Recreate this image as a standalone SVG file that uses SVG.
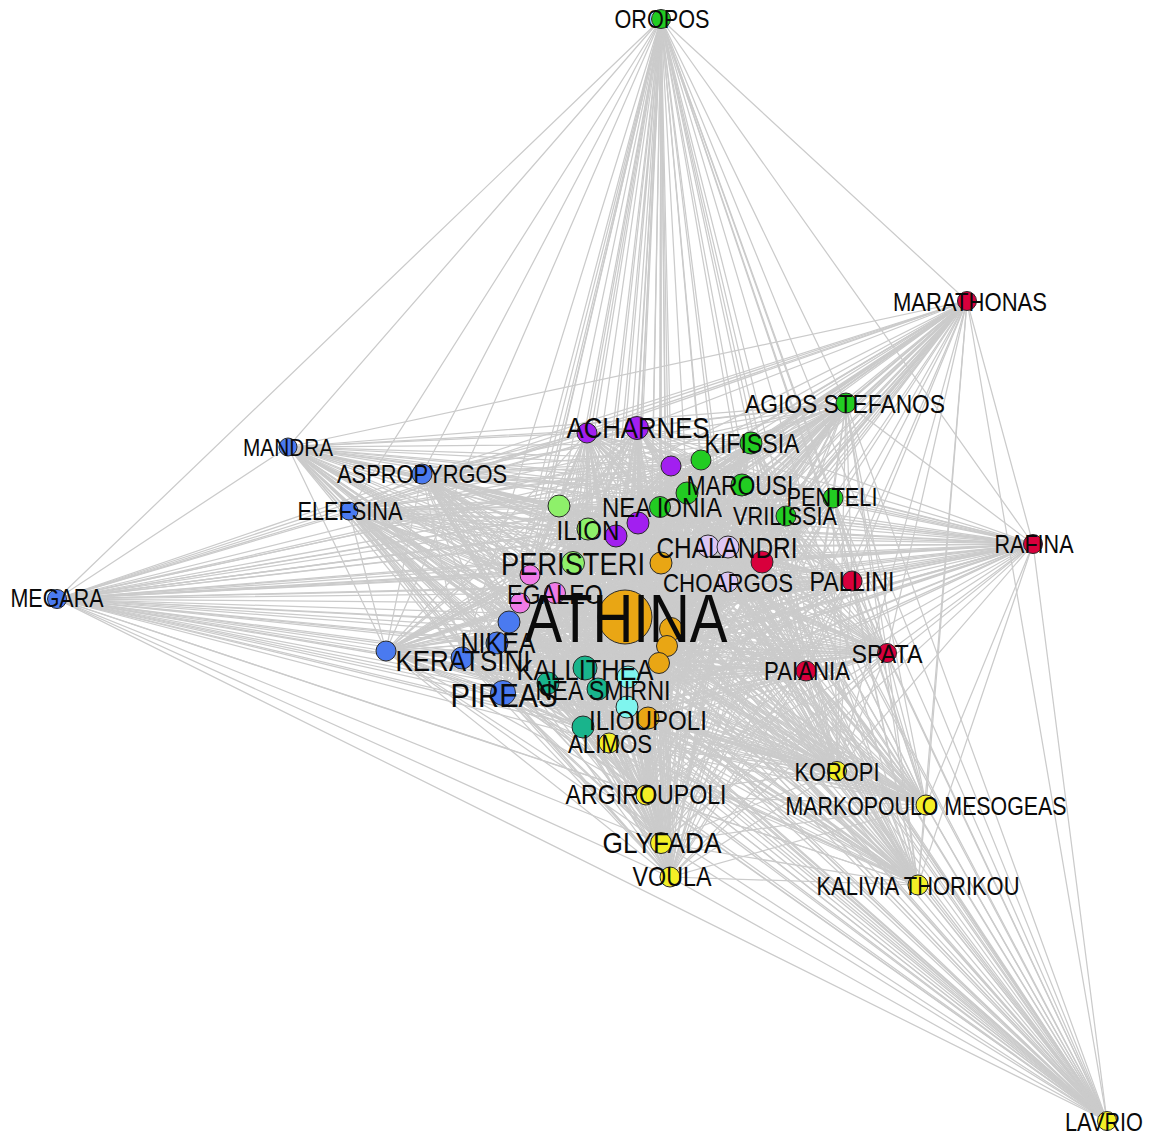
<svg xmlns="http://www.w3.org/2000/svg" width="1155" height="1135" viewBox="0 0 1155 1135">
<style>
.e{fill:none;stroke:#cbcbcb;stroke-width:1.25}
.n{stroke:#2a2a2a;stroke-width:1}
.l{font-family:"Liberation Sans",Arial,sans-serif;fill:#0a0a0a;text-anchor:middle}
.g{fill:#22cc22}.lg{fill:#8ef06a}.pu{fill:#a21ff0}.or{fill:#e9a614}.lv{fill:#ddc6f3}.rd{fill:#d8003c}.cy{fill:#7ff5ee}.tl{fill:#19b48c}.pk{fill:#f07be6}.bl{fill:#4a7af0}.ye{fill:#f3ef26}
</style>
<rect width="1155" height="1135" fill="#fff"/>
<g id="edges">
<polygon class="e" points="661,19 967,301 57,599 1107,1121 288,447 422,474 349,511 846,403 751,443 587,433 637,428 671,466 701,460 742,485 687,493 660,507 638,523 616,536 559,506 588,529 573,563 661,563 708,546 728,547 762,562 833,498 786,516 728,582 852,581 1033,544 887,653 806,671 625,617 671,629 667,646 659,663 648,718 628,677 627,707 585,668 548,683 598,689 583,727 609,743 530,575 555,593 520,603 509,622 497,643 462,658 386,651 503,693 646,795 661,843 670,877 837,771 926,805 918,885"/>
<polygon class="e" points="661,19 57,599 288,447 349,511 751,443 637,428 701,460 687,493 638,523 559,506 573,563 708,546 762,562 786,516 852,581 887,653 625,617 667,646 648,718 627,707 548,683 583,727 530,575 520,603 497,643 386,651 646,795 670,877 926,805"/>
<polygon class="e" points="967,301 1107,1121 422,474 846,403 587,433 671,466 742,485 660,507 616,536 588,529 661,563 728,547 833,498 728,582 1033,544 806,671 671,629 659,663 628,677 585,668 598,689 609,743 555,593 509,622 462,658 503,693 661,843 837,771 918,885"/>
<polygon class="e" points="661,19 1107,1121 349,511 587,433 701,460 660,507 559,506 661,563 762,562 728,582 887,653 671,629 648,718 585,668 583,727 555,593 497,643 503,693 670,877 918,885 57,599 422,474 751,443 671,466 687,493 616,536 573,563 728,547 786,516 1033,544 625,617 659,663 627,707 598,689 530,575 509,622 386,651 661,843 926,805 967,301 288,447 846,403 637,428 742,485 638,523 588,529 708,546 833,498 852,581 806,671 667,646 628,677 548,683 609,743 520,603 462,658 646,795 837,771"/>
<polygon class="e" points="661,19 288,447 751,443 701,460 638,523 573,563 762,562 852,581 625,617 648,718 548,683 530,575 497,643 646,795 926,805 57,599 349,511 637,428 687,493 559,506 708,546 786,516 887,653 667,646 627,707 583,727 520,603 386,651 670,877"/>
<polygon class="e" points="967,301 422,474 587,433 742,485 616,536 661,563 833,498 1033,544 671,629 628,677 598,689 555,593 462,658 661,843 918,885 1107,1121 846,403 671,466 660,507 588,529 728,547 728,582 806,671 659,663 585,668 609,743 509,622 503,693 837,771"/>
<polygon class="e" points="661,19 422,474 637,428 660,507 573,563 833,498 887,653 659,663 548,683 555,593 386,651 837,771 57,599 846,403 701,460 616,536 708,546 728,582 625,617 628,677 583,727 509,622 646,795 918,885 288,447 587,433 687,493 588,529 762,562 1033,544 667,646 585,668 530,575 462,658 670,877 967,301 349,511 671,466 638,523 661,563 786,516 806,671 648,718 598,689 520,603 503,693 926,805 1107,1121 751,443 742,485 559,506 728,547 852,581 671,629 627,707 609,743 497,643 661,843"/>
<polygon class="e" points="661,19 349,511 701,460 559,506 762,562 887,653 648,718 583,727 497,643 670,877 57,599 751,443 687,493 573,563 786,516 625,617 627,707 530,575 386,651 926,805 288,447 637,428 638,523 708,546 852,581 667,646 548,683 520,603 646,795"/>
<polygon class="e" points="967,301 846,403 742,485 588,529 833,498 806,671 628,677 609,743 462,658 837,771 1107,1121 587,433 660,507 661,563 728,582 671,629 585,668 555,593 503,693 918,885 422,474 671,466 616,536 728,547 1033,544 659,663 598,689 509,622 661,843"/>
<polygon class="e" points="661,19 846,403 687,493 661,563 852,581 659,663 583,727 462,658 926,805 422,474 701,460 588,529 786,516 671,629 548,683 509,622 670,877 1107,1121 637,428 616,536 762,562 806,671 627,707 555,593 646,795 967,301 751,443 660,507 708,546 1033,544 648,718 609,743 386,651 918,885 349,511 742,485 573,563 728,582 667,646 598,689 497,643 837,771 288,447 671,466 559,506 833,498 625,617 585,668 520,603 661,843 57,599 587,433 638,523 728,547 887,653 628,677 530,575 503,693"/>
<polygon class="e" points="661,19 751,443 638,523 762,562 625,617 548,683 497,643 926,805 349,511 687,493 708,546 887,653 627,707 520,603 670,877 288,447 701,460 573,563 852,581 648,718 530,575 646,795 57,599 637,428 559,506 786,516 667,646 583,727 386,651"/>
<polygon class="e" points="967,301 587,433 616,536 833,498 671,629 598,689 462,658 918,885 846,403 660,507 728,547 806,671 585,668 509,622 837,771 422,474 742,485 661,563 1033,544 628,677 555,593 661,843 1107,1121 671,466 588,529 728,582 659,663 609,743 503,693"/>
<polygon class="e" points="661,19 587,433 559,506 728,582 648,718 555,593 670,877 422,474 687,493 728,547 625,617 598,689 386,651 967,301 637,428 588,529 852,581 628,677 520,603 837,771 349,511 660,507 762,562 671,629 583,727 503,693 57,599 671,466 573,563 1033,544 627,707 509,622 926,805 846,403 638,523 833,498 667,646 609,743 646,795 1107,1121 701,460 661,563 887,653 585,668 497,643 918,885 751,443 616,536 786,516 659,663 530,575 661,843 288,447 742,485 708,546 806,671 548,683 462,658"/>
<polygon class="e" points="661,19 637,428 573,563 887,653 548,683 386,651 57,599 701,460 708,546 625,617 583,727 646,795 288,447 687,493 762,562 667,646 530,575 670,877 349,511 638,523 786,516 648,718 520,603 926,805 751,443 559,506 852,581 627,707 497,643"/>
<polygon class="e" points="967,301 671,466 661,563 806,671 598,689 503,693 1107,1121 742,485 728,547 671,629 609,743 661,843 422,474 660,507 833,498 659,663 555,593 837,771 846,403 616,536 728,582 628,677 509,622 918,885 587,433 588,529 1033,544 585,668 462,658"/>
<polygon class="e" points="661,19 671,466 708,546 671,629 530,575 837,771 751,443 588,529 887,653 598,689 646,795 422,474 638,523 728,582 627,707 462,658 57,599 742,485 762,562 659,663 520,603 918,885 637,428 661,563 625,617 609,743 670,877 846,403 559,506 1033,544 548,683 503,693 288,447 660,507 786,516 628,677 497,643 967,301 701,460 728,547 667,646 555,593 926,805 587,433 573,563 806,671 583,727 661,843 349,511 616,536 852,581 585,668 386,651 1107,1121 687,493 833,498 648,718 509,622"/>
<polygon class="e" points="661,19 701,460 762,562 648,718 497,643 57,599 687,493 786,516 627,707 386,651 288,447 638,523 852,581 548,683 646,795 349,511 559,506 887,653 583,727 670,877 751,443 573,563 625,617 530,575 926,805 637,428 708,546 667,646 520,603"/>
<polygon class="e" points="967,301 742,485 833,498 628,677 462,658 1107,1121 660,507 728,582 585,668 503,693 422,474 616,536 1033,544 598,689 661,843 846,403 588,529 806,671 609,743 837,771 587,433 661,563 671,629 555,593 918,885 671,466 728,547 659,663 509,622"/>
<polygon class="e" points="661,19 742,485 786,516 585,668 646,795 846,403 573,563 671,629 520,603 967,301 687,493 728,582 548,683 661,843 751,443 661,563 667,646 509,622 57,599 660,507 852,581 598,689 670,877 587,433 708,546 659,663 497,643 1107,1121 638,523 1033,544 583,727 837,771 637,428 728,547 648,718 462,658 288,447 616,536 887,653 609,743 926,805 671,466 762,562 628,677 386,651 422,474 559,506 806,671 530,575 918,885 701,460 833,498 627,707 503,693 349,511 588,529 625,617 555,593"/>
<polygon class="e" points="661,19 687,493 852,581 583,727 926,805 701,460 786,516 548,683 670,877 637,428 762,562 627,707 646,795 751,443 708,546 648,718 386,651 349,511 573,563 667,646 497,643 288,447 559,506 625,617 520,603 57,599 638,523 887,653 530,575"/>
<polygon class="e" points="967,301 660,507 1033,544 609,743 918,885 742,485 728,582 598,689 837,771 671,466 833,498 585,668 661,843 587,433 728,547 628,677 503,693 846,403 661,563 659,663 462,658 422,474 588,529 671,629 509,622 1107,1121 616,536 806,671 555,593"/>
<polygon class="e" points="661,19 660,507 887,653 555,593 57,599 616,536 625,617 509,622 288,447 588,529 667,646 462,658 349,511 661,563 648,718 503,693 751,443 728,547 627,707 661,843 637,428 833,498 548,683 837,771 701,460 728,582 583,727 918,885 687,493 1033,544 530,575 967,301 638,523 806,671 520,603 1107,1121 559,506 671,629 497,643 422,474 573,563 659,663 386,651 846,403 708,546 628,677 646,795 587,433 762,562 585,668 670,877 671,466 786,516 598,689 926,805 742,485 852,581 609,743"/>
<polygon class="e" points="661,19 638,523 625,617 497,643 349,511 708,546 627,707 670,877 701,460 852,581 530,575 57,599 559,506 667,646 386,651 751,443 762,562 548,683 926,805 687,493 887,653 520,603 288,447 573,563 648,718 646,795 637,428 786,516 583,727"/>
<polygon class="e" points="967,301 616,536 671,629 462,658 846,403 728,547 585,668 837,771 742,485 1033,544 555,593 1107,1121 588,529 659,663 503,693 587,433 833,498 598,689 918,885 660,507 806,671 509,622 422,474 661,563 628,677 661,843 671,466 728,582 609,743"/>
<polygon class="e" points="661,19 616,536 667,646 503,693 637,428 728,582 530,575 1107,1121 573,563 628,677 670,877 742,485 887,653 509,622 349,511 728,547 548,683 918,885 638,523 671,629 386,651 587,433 786,516 609,743 57,599 588,529 648,718 661,843 701,460 1033,544 520,603 422,474 708,546 585,668 926,805 660,507 625,617 462,658 751,443 833,498 583,727 967,301 559,506 659,663 646,795 671,466 852,581 555,593 288,447 661,563 627,707 837,771 687,493 806,671 497,643 846,403 762,562 598,689"/>
<polygon class="e" points="661,19 559,506 648,718 670,877 687,493 625,617 386,651 637,428 852,581 520,603 349,511 762,562 583,727 57,599 573,563 627,707 926,805 638,523 667,646 646,795 701,460 887,653 497,643 751,443 786,516 530,575 288,447 708,546 548,683"/>
<polygon class="e" points="967,301 588,529 628,677 837,771 660,507 671,629 503,693 671,466 1033,544 509,622 846,403 833,498 609,743 1107,1121 661,563 585,668 918,885 616,536 659,663 661,843 742,485 806,671 462,658 587,433 728,582 555,593 422,474 728,547 598,689"/>
<polygon class="e" points="661,19 588,529 627,707 918,885 559,506 628,677 926,805 616,536 648,718 837,771 638,523 659,663 670,877 660,507 667,646 661,843 687,493 671,629 646,795 742,485 625,617 503,693 701,460 806,671 386,651 671,466 887,653 462,658 637,428 1033,544 497,643 587,433 852,581 509,622 751,443 728,582 520,603 846,403 786,516 555,593 349,511 833,498 530,575 422,474 762,562 609,743 288,447 728,547 583,727 1107,1121 708,546 598,689 57,599 661,563 548,683 967,301 573,563 585,668"/>
<polygon class="e" points="661,19 573,563 548,683 57,599 708,546 583,727 288,447 762,562 530,575 349,511 786,516 520,603 751,443 852,581 497,643 637,428 887,653 386,651 701,460 625,617 646,795 687,493 667,646 670,877 638,523 648,718 926,805 559,506 627,707"/>
<polygon class="e" points="967,301 661,563 598,689 1107,1121 728,547 609,743 422,474 833,498 555,593 846,403 728,582 509,622 587,433 1033,544 462,658 671,466 806,671 503,693 742,485 671,629 661,843 660,507 659,663 837,771 616,536 628,677 918,885 588,529 585,668"/>
<polygon class="e" points="661,19 661,563 583,727 422,474 786,516 509,622 637,428 806,671 646,795 660,507 648,718 918,885 573,563 598,689 288,447 833,498 520,603 587,433 887,653 503,693 687,493 659,663 926,805 588,529 548,683 1107,1121 762,562 555,593 751,443 1033,544 386,651 742,485 667,646 837,771 559,506 585,668 57,599 728,547 530,575 846,403 852,581 462,658 701,460 671,629 670,877 616,536 627,707 967,301 708,546 609,743 349,511 728,582 497,643 671,466 625,617 661,843 638,523 628,677"/>
<polygon class="e" points="661,19 708,546 530,575 751,443 887,653 646,795 638,523 627,707 57,599 762,562 520,603 637,428 625,617 670,877 559,506 548,683 288,447 786,516 497,643 701,460 667,646 926,805 573,563 583,727 349,511 852,581 386,651 687,493 648,718"/>
<polygon class="e" points="967,301 728,547 555,593 587,433 806,671 661,843 616,536 585,668 1107,1121 833,498 509,622 671,466 671,629 837,771 588,529 598,689 422,474 728,582 462,658 742,485 659,663 918,885 661,563 609,743 846,403 1033,544 503,693 660,507 628,677"/>
<polygon class="e" points="661,19 728,547 520,603 671,466 667,646 918,885 708,546 555,593 637,428 671,629 926,805 661,563 530,575 587,433 625,617 837,771 573,563 609,743 751,443 806,671 670,877 588,529 583,727 846,403 887,653 661,843 559,506 598,689 349,511 1033,544 646,795 616,536 548,683 422,474 852,581 503,693 638,523 585,668 288,447 728,582 386,651 660,507 627,707 1107,1121 786,516 462,658 687,493 628,677 57,599 833,498 497,643 742,485 648,718 967,301 762,562 509,622 701,460 659,663"/>
<polygon class="e" points="661,19 762,562 497,643 687,493 627,707 288,447 852,581 646,795 559,506 583,727 751,443 625,617 926,805 708,546 520,603 701,460 648,718 57,599 786,516 386,651 638,523 548,683 349,511 887,653 670,877 573,563 530,575 637,428 667,646"/>
<polygon class="e" points="967,301 833,498 462,658 660,507 585,668 422,474 1033,544 661,843 588,529 609,743 587,433 671,629 918,885 728,547 509,622 742,485 628,677 1107,1121 728,582 503,693 616,536 598,689 846,403 806,671 837,771 661,563 555,593 671,466 659,663"/>
<polygon class="e" points="661,19 833,498 386,651 616,536 583,727 587,433 667,646 967,301 786,516 503,693 559,506 609,743 637,428 659,663 57,599 728,582 646,795 588,529 530,575 671,466 648,718 1107,1121 852,581 661,843 573,563 555,593 701,460 628,677 288,447 1033,544 670,877 661,563 520,603 742,485 627,707 422,474 887,653 837,771 708,546 509,622 687,493 585,668 349,511 806,671 926,805 728,547 497,643 660,507 548,683 846,403 625,617 918,885 762,562 462,658 638,523 598,689 751,443 671,629"/>
<polygon class="e" points="661,19 786,516 646,795 573,563 520,603 687,493 548,683 751,443 667,646 57,599 852,581 670,877 708,546 497,643 638,523 583,727 637,428 648,718 288,447 887,653 926,805 762,562 386,651 559,506 530,575 701,460 627,707 349,511 625,617"/>
<polygon class="e" points="967,301 728,582 661,843 661,563 509,622 660,507 598,689 587,433 659,663 1107,1121 1033,544 837,771 728,547 462,658 616,536 609,743 671,466 628,677 422,474 806,671 918,885 833,498 503,693 588,529 555,593 742,485 585,668 846,403 671,629"/>
<polygon class="e" points="661,19 728,582 670,877 728,547 386,651 588,529 520,603 660,507 583,727 671,466 627,707 846,403 667,646 1107,1121 887,653 918,885 786,516 661,843 708,546 462,658 559,506 555,593 687,493 598,689 637,428 628,677 349,511 671,629 57,599 1033,544 926,805 833,498 646,795 661,563 497,643 616,536 530,575 742,485 548,683 587,433 648,718 422,474 625,617 967,301 852,581 837,771 762,562 503,693 573,563 509,622 638,523 609,743 701,460 585,668 751,443 659,663 288,447 806,671"/>
<polygon class="e" points="661,19 852,581 926,805 786,516 670,877 762,562 646,795 708,546 386,651 573,563 497,643 559,506 520,603 638,523 530,575 687,493 583,727 701,460 548,683 637,428 627,707 751,443 648,718 349,511 667,646 288,447 625,617 57,599 887,653"/>
<polygon class="e" points="967,301 1033,544 918,885 728,582 837,771 833,498 661,843 728,547 503,693 661,563 462,658 588,529 509,622 616,536 555,593 660,507 609,743 742,485 598,689 671,466 585,668 587,433 628,677 846,403 659,663 422,474 671,629 1107,1121 806,671"/>
<path class="e" d="M661 19L1033 544M967 301L887 653M57 599L806 671M1107 1121L625 617M288 447L671 629M422 474L667 646M349 511L659 663M846 403L648 718M751 443L628 677M587 433L627 707M637 428L585 668M671 466L548 683M701 460L598 689M742 485L583 727M687 493L609 743M660 507L530 575M638 523L555 593M616 536L520 603M559 506L509 622M588 529L497 643M573 563L462 658M661 563L386 651M708 546L503 693M728 547L646 795M762 562L661 843M833 498L670 877M786 516L837 771M728 582L926 805M852 581L918 885"/>
</g>
<g id="nodes">
<g id="n-oropos"><circle class="n g" cx="661" cy="19" r="9.5"/></g>
<g id="n-marathonas"><circle class="n rd" cx="967" cy="301" r="9.5"/></g>
<g id="n-megara"><circle class="n bl" cx="57" cy="599" r="9.5"/></g>
<g id="n-lavrio"><circle class="n ye" cx="1107" cy="1121" r="9.5"/></g>
<g id="n-mandra"><circle class="n bl" cx="288" cy="447" r="9"/></g>
<g id="n-aspropyrgos"><circle class="n bl" cx="422" cy="474" r="10"/></g>
<g id="n-elefsina"><circle class="n bl" cx="349" cy="511" r="9"/></g>
<g id="n-agios-stefanos"><circle class="n g" cx="846" cy="403" r="10"/></g>
<g id="n-kifissia"><circle class="n g" cx="751" cy="443" r="11"/></g>
<g id="n-9"><circle class="n pu" cx="587" cy="433" r="10"/></g>
<g id="n-acharnes"><circle class="n pu" cx="637" cy="428" r="11.5"/></g>
<g id="n-11"><circle class="n pu" cx="671" cy="466" r="10"/></g>
<g id="n-12"><circle class="n g" cx="701" cy="460" r="10"/></g>
<g id="n-marousi"><circle class="n g" cx="742" cy="485" r="11"/></g>
<g id="n-14"><circle class="n g" cx="687" cy="493" r="11"/></g>
<g id="n-nea-ionia"><circle class="n g" cx="660" cy="507" r="10.5"/></g>
<g id="n-16"><circle class="n pu" cx="638" cy="523" r="11"/></g>
<g id="n-17"><circle class="n pu" cx="616" cy="536" r="11"/></g>
<g id="n-18"><circle class="n lg" cx="559" cy="506" r="11"/></g>
<g id="n-ilion"><circle class="n lg" cx="588" cy="529" r="11"/></g>
<g id="n-peristeri"><circle class="n lg" cx="573" cy="563" r="11.5"/></g>
<g id="n-21"><circle class="n or" cx="661" cy="563" r="11"/></g>
<g id="n-22"><circle class="n lv" cx="708" cy="546" r="11"/></g>
<g id="n-chalandri"><circle class="n lv" cx="728" cy="547" r="11"/></g>
<g id="n-24"><circle class="n rd" cx="762" cy="562" r="11"/></g>
<g id="n-penteli"><circle class="n g" cx="833" cy="498" r="10"/></g>
<g id="n-vrilissia"><circle class="n g" cx="786" cy="516" r="10"/></g>
<g id="n-choargos"><circle class="n lv" cx="728" cy="582" r="10"/></g>
<g id="n-pallini"><circle class="n rd" cx="852" cy="581" r="10"/></g>
<g id="n-rafina"><circle class="n rd" cx="1033" cy="544" r="9.5"/></g>
<g id="n-spata"><circle class="n rd" cx="887" cy="653" r="9.5"/></g>
<g id="n-paiania"><circle class="n rd" cx="806" cy="671" r="10"/></g>
<g id="n-athina"><circle class="n or" cx="625" cy="617" r="27"/></g>
<g id="n-33"><circle class="n or" cx="671" cy="629" r="11.5"/></g>
<g id="n-34"><circle class="n or" cx="667" cy="646" r="10.5"/></g>
<g id="n-35"><circle class="n or" cx="659" cy="663" r="10.5"/></g>
<g id="n-ilioupoli"><circle class="n or" cx="648" cy="718" r="11"/></g>
<g id="n-37"><circle class="n cy" cx="628" cy="677" r="11"/></g>
<g id="n-38"><circle class="n cy" cx="627" cy="707" r="11"/></g>
<g id="n-kallithea"><circle class="n tl" cx="585" cy="668" r="12"/></g>
<g id="n-40"><circle class="n tl" cx="548" cy="683" r="11"/></g>
<g id="n-nea-smirni"><circle class="n tl" cx="598" cy="689" r="11"/></g>
<g id="n-42"><circle class="n tl" cx="583" cy="727" r="11"/></g>
<g id="n-alimos"><circle class="n ye" cx="609" cy="743" r="10"/></g>
<g id="n-44"><circle class="n pk" cx="530" cy="575" r="10"/></g>
<g id="n-egaleo"><circle class="n pk" cx="555" cy="593" r="10.5"/></g>
<g id="n-46"><circle class="n pk" cx="520" cy="603" r="10"/></g>
<g id="n-47"><circle class="n bl" cx="509" cy="622" r="11"/></g>
<g id="n-nikea"><circle class="n bl" cx="497" cy="643" r="11"/></g>
<g id="n-keratsini"><circle class="n bl" cx="462" cy="658" r="11"/></g>
<g id="n-50"><circle class="n bl" cx="386" cy="651" r="10"/></g>
<g id="n-pireas"><circle class="n bl" cx="503" cy="693" r="12.5"/></g>
<g id="n-argiroupoli"><circle class="n ye" cx="646" cy="795" r="10"/></g>
<g id="n-glyfada"><circle class="n ye" cx="661" cy="843" r="10.5"/></g>
<g id="n-voula"><circle class="n ye" cx="670" cy="877" r="10"/></g>
<g id="n-koropi"><circle class="n ye" cx="837" cy="771" r="9.5"/></g>
<g id="n-markopoulo"><circle class="n ye" cx="926" cy="805" r="10"/></g>
<g id="n-kalivia"><circle class="n ye" cx="918" cy="885" r="10"/></g>
</g>
<g id="labels">
<text class="l" x="662" y="28.1" font-size="25.5" textLength="95" lengthAdjust="spacingAndGlyphs">OROPOS</text>
<text class="l" x="970" y="311.2" font-size="25.7" textLength="154" lengthAdjust="spacingAndGlyphs">MARATHONAS</text>
<text class="l" x="57" y="607" font-size="25.2" textLength="93" lengthAdjust="spacingAndGlyphs">MEGARA</text>
<text class="l" x="1104" y="1131" font-size="25.5" textLength="78" lengthAdjust="spacingAndGlyphs">LAVRIO</text>
<text class="l" x="288" y="455.7" font-size="24.4" textLength="90" lengthAdjust="spacingAndGlyphs">MANDRA</text>
<text class="l" x="422" y="483.2" font-size="25.7" textLength="170" lengthAdjust="spacingAndGlyphs">ASPROPYRGOS</text>
<text class="l" x="350" y="520.1" font-size="25.5" textLength="105" lengthAdjust="spacingAndGlyphs">ELEFSINA</text>
<text class="l" x="845" y="412.5" font-size="26.6" textLength="200" lengthAdjust="spacingAndGlyphs">AGIOS STEFANOS</text>
<text class="l" x="752" y="452.7" font-size="27.2" textLength="95" lengthAdjust="spacingAndGlyphs">KIFISSIA</text>
<text class="l" x="638" y="437.8" font-size="30.3" textLength="143" lengthAdjust="spacingAndGlyphs">ACHARNES</text>
<text class="l" x="740" y="494.7" font-size="27" textLength="107" lengthAdjust="spacingAndGlyphs">MAROUSI</text>
<text class="l" x="662" y="517" font-size="27.9" textLength="120" lengthAdjust="spacingAndGlyphs">NEA IONIA</text>
<text class="l" x="588" y="540.2" font-size="28.4" textLength="63" lengthAdjust="spacingAndGlyphs">ILION</text>
<text class="l" x="573" y="574.5" font-size="32.1" textLength="144" lengthAdjust="spacingAndGlyphs">PERISTERI</text>
<text class="l" x="727" y="558.3" font-size="28.7" textLength="141" lengthAdjust="spacingAndGlyphs">CHALANDRI</text>
<text class="l" x="832" y="506.2" font-size="25.7" textLength="91" lengthAdjust="spacingAndGlyphs">PENTELI</text>
<text class="l" x="785" y="525.2" font-size="25.6" textLength="104" lengthAdjust="spacingAndGlyphs">VRILISSIA</text>
<text class="l" x="728" y="592.4" font-size="26.2" textLength="130" lengthAdjust="spacingAndGlyphs">CHOARGOS</text>
<text class="l" x="852" y="590.6" font-size="26.9" textLength="85" lengthAdjust="spacingAndGlyphs">PALLINI</text>
<text class="l" x="1034" y="553.1" font-size="25.3" textLength="79" lengthAdjust="spacingAndGlyphs">RAFINA</text>
<text class="l" x="887" y="663.1" font-size="25.5" textLength="71" lengthAdjust="spacingAndGlyphs">SPATA</text>
<text class="l" x="807" y="680.2" font-size="25.6" textLength="86" lengthAdjust="spacingAndGlyphs">PAIANIA</text>
<text class="l" x="626" y="641.5" font-size="68" textLength="203" lengthAdjust="spacingAndGlyphs">ATHINA</text>
<text class="l" x="555" y="603.8" font-size="27.5" textLength="96" lengthAdjust="spacingAndGlyphs">EGALEO</text>
<text class="l" x="498" y="652.5" font-size="29.4" textLength="75" lengthAdjust="spacingAndGlyphs">NIKEA</text>
<text class="l" x="463" y="670.8" font-size="30.1" textLength="135" lengthAdjust="spacingAndGlyphs">KERATSINI</text>
<text class="l" x="585" y="679.7" font-size="29.9" textLength="137" lengthAdjust="spacingAndGlyphs">KALLITHEA</text>
<text class="l" x="603" y="699.7" font-size="27" textLength="135" lengthAdjust="spacingAndGlyphs">NEA SMIRNI</text>
<text class="l" x="504" y="707.2" font-size="34" textLength="107" lengthAdjust="spacingAndGlyphs">PIREAS</text>
<text class="l" x="648" y="730.2" font-size="28.4" textLength="118" lengthAdjust="spacingAndGlyphs">ILIOUPOLI</text>
<text class="l" x="610" y="753.4" font-size="26.2" textLength="84" lengthAdjust="spacingAndGlyphs">ALIMOS</text>
<text class="l" x="646" y="803.8" font-size="27.3" textLength="161" lengthAdjust="spacingAndGlyphs">ARGIROUPOLI</text>
<text class="l" x="662" y="852.7" font-size="30" textLength="119" lengthAdjust="spacingAndGlyphs">GLYFADA</text>
<text class="l" x="672" y="885.8" font-size="27.4" textLength="79" lengthAdjust="spacingAndGlyphs">VOULA</text>
<text class="l" x="837" y="781.2" font-size="25.7" textLength="85" lengthAdjust="spacingAndGlyphs">KOROPI</text>
<text class="l" x="926" y="815" font-size="25.1" textLength="281" lengthAdjust="spacingAndGlyphs">MARKOPOULO MESOGEAS</text>
<text class="l" x="918" y="895.2" font-size="25.6" textLength="203" lengthAdjust="spacingAndGlyphs">KALIVIA THORIKOU</text>
</g>
</svg>
